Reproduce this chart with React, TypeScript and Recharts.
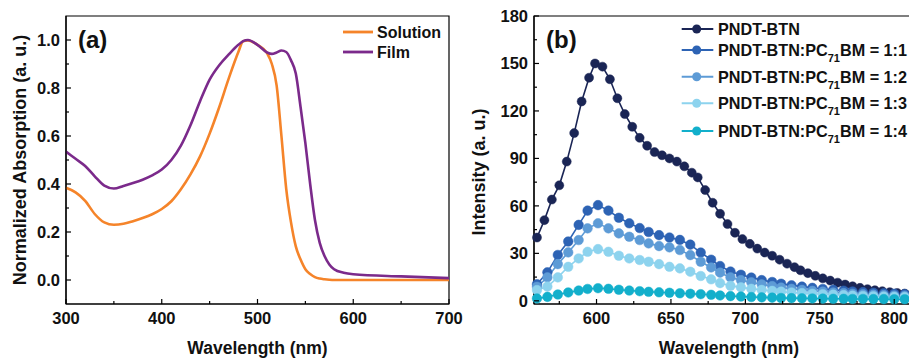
import { LineChart, Line, XAxis, YAxis, ReferenceArea, Legend, Label } from 'recharts'

// (a) normalized UV-vis absorption
const absWavelength = [300, 310, 320, 330, 340, 350, 360, 370, 380, 390, 400, 410, 420, 430, 440, 450, 460, 470, 480, 485, 490, 500, 510, 515, 520, 525, 530, 535, 540, 545, 550, 555, 560, 565, 570, 575, 580, 590, 600, 650, 700]
const absSolution = [0.384, 0.365, 0.33, 0.275, 0.24, 0.23, 0.234, 0.245, 0.258, 0.274, 0.296, 0.328, 0.378, 0.44, 0.515, 0.61, 0.72, 0.84, 0.95, 0.995, 0.998, 0.98, 0.945, 0.9, 0.81, 0.6, 0.38, 0.24, 0.14, 0.085, 0.045, 0.025, 0.012, 0.006, 0.003, 0.001, 0, 0, 0, 0, 0]
const absFilm = [0.535, 0.505, 0.475, 0.432, 0.393, 0.381, 0.392, 0.404, 0.418, 0.436, 0.46, 0.5, 0.56, 0.645, 0.745, 0.835, 0.895, 0.94, 0.98, 0.995, 1.0, 0.98, 0.948, 0.942, 0.948, 0.956, 0.95, 0.915, 0.86, 0.72, 0.57, 0.4, 0.25, 0.155, 0.1, 0.065, 0.045, 0.03, 0.024, 0.015, 0.008]

// (b) photoluminescence
const plWavelengthNeat = [560, 565, 570, 575, 580, 585, 590, 595, 599, 604, 609, 614, 619, 624, 629, 634, 639, 644, 649, 654, 659, 664, 668, 673, 678, 683, 688, 693, 698, 703, 708, 713, 718, 723, 728, 733, 737, 742, 747, 752, 757, 762, 767, 772, 777, 782, 787, 792, 797, 802, 807]
const plNeat = [40, 51, 64, 73, 88, 106, 126, 141, 150, 148, 140, 128, 118, 110, 103, 98, 94, 92, 90, 88, 85, 81, 78, 70, 62, 55, 48.5, 43, 39, 36, 33, 30.5, 28.5, 26, 23.5, 21.3, 19.3, 17.5, 15.8, 14.2, 12.8, 11.5, 10.3, 9.2, 8.2, 7.4, 6.7, 6.1, 5.5, 5, 4.6]
const plWavelengthBlend = [560, 567, 574, 581, 588, 594, 601, 608, 615, 622, 629, 635, 642, 649, 656, 663, 670, 677, 683, 690, 697, 704, 711, 718, 724, 731, 738, 745, 752, 759, 766, 772, 779, 786, 793, 800, 807]
const plBlend11 = [10.5, 18, 29, 37.5, 48, 57, 60.5, 57, 52.5, 49, 46, 43.5, 41.5, 40, 38.5, 35.5, 30.5, 26, 22, 18.5, 16.5, 14.7, 13.1, 11.9, 10.8, 9.8, 9, 8.2, 7.5, 6.9, 6.4, 5.9, 5.5, 5.1, 4.8, 4.5, 4.2]
const plBlend12 = [8.9, 14.8, 23.2, 30.6, 38.4, 45.8, 49, 45.8, 42.6, 40.5, 38.4, 36.3, 34.6, 33.8, 32.1, 28.9, 24.7, 21.1, 17.8, 14.8, 13.1, 11.7, 10.4, 9.3, 8.4, 7.6, 6.9, 6.3, 5.8, 5.3, 4.9, 4.5, 4.2, 3.9, 3.6, 3.4, 3.2]
const plBlend13 = [6.8, 9, 14.8, 21.5, 26.8, 31, 32.7, 31, 28.5, 26.8, 25.8, 24.7, 23.2, 21.5, 20.5, 18.4, 15.7, 13.6, 11.2, 9.5, 8.5, 7.6, 6.9, 6.3, 5.8, 5.3, 4.9, 4.5, 4.2, 3.9, 3.6, 3.3, 3.1, 2.9, 2.7, 2.5, 2.4]
const plBlend14 = [1.5, 2.5, 4, 5.3, 6.5, 7.5, 8, 7.6, 7, 6.5, 6.1, 5.7, 5.4, 5.1, 4.8, 4.5, 4.2, 3.8, 3.4, 3.0, 2.7, 2.4, 2.2, 2.0, 1.8, 1.7, 1.6, 1.5, 1.4, 1.3, 1.3, 1.2, 1.2, 1.1, 1.1, 1.0, 1.0]

// ticks (minor ticks included, labels only on majors)
const absTicksX = [300, 350, 400, 450, 500, 550, 600, 650, 700]
const absTicksY = [0, 0.1, 0.2, 0.3, 0.4, 0.5, 0.6, 0.7, 0.8, 0.9, 1.0]
const plTicksX = [575, 600, 625, 650, 675, 700, 725, 750, 775, 800]
const plTicksY = [0, 15, 30, 45, 60, 75, 90, 105, 120, 135, 150, 165, 180]

const FONT = '"Liberation Sans", Arial, Helvetica, sans-serif'
const X_GAP = 8
const Y_GAP = 6
const txt = { fontFamily: FONT, fontWeight: 700, fill: '#111' }

const absRows = absWavelength.map((w, i) => ({ w, solution: absSolution[i], film: absFilm[i] }))
const toPts = (xs: number[], ys: number[]) => xs.map((x, i) => ({ w: x, v: ys[i] }))

const absSeries = [
  { key: 'solution', name: 'Solution', color: '#F5842A' },
  { key: 'film', name: 'Film', color: '#7B2A8B' },
]

const plSeries = [
  { name: 'PNDT-BTN', color: '#1A2555', r: 4.5, data: toPts(plWavelengthNeat, plNeat) },
  { name: 'PNDT-BTN:PC71BM = 1:1', color: '#2D63B4', r: 4.8, data: toPts(plWavelengthBlend, plBlend11) },
  { name: 'PNDT-BTN:PC71BM = 1:2', color: '#5D9BD6', r: 4.8, data: toPts(plWavelengthBlend, plBlend12) },
  { name: 'PNDT-BTN:PC71BM = 1:3', color: '#8DD3EE', r: 4.8, data: toPts(plWavelengthBlend, plBlend13) },
  { name: 'PNDT-BTN:PC71BM = 1:4', color: '#12AFCB', r: 4.8, data: toPts(plWavelengthBlend, plBlend14) },
]

function xTick(isMajor: (v: number) => boolean, fmt: (v: number) => string) {
  return (p: any) => {
    const v = p.payload.value
    const major = isMajor(v)
    const axisY = p.y - X_GAP
    return (
      <g>
        <line x1={p.x} x2={p.x} y1={axisY} y2={axisY - (major ? 5 : 3)} stroke="#000" strokeWidth={1.2} />
        {major && (
          <text x={p.x} y={p.y} dy="0.71em" textAnchor="middle" fontSize={16.5} {...txt}>
            {fmt(v)}
          </text>
        )}
      </g>
    )
  }
}

function yTick(isMajor: (v: number) => boolean, fmt: (v: number) => string) {
  return (p: any) => {
    const v = p.payload.value
    const major = isMajor(v)
    const axisX = p.x + Y_GAP
    return (
      <g>
        <line x1={axisX} x2={axisX + (major ? 5 : 3)} y1={p.y} y2={p.y} stroke="#000" strokeWidth={1.2} />
        {major && (
          <text x={p.x} y={p.y} dy="0.36em" textAnchor="end" fontSize={16.5} {...txt}>
            {fmt(v)}
          </text>
        )}
      </g>
    )
  }
}

const xTitle = (dy: number) => (p: any) => {
  const vb = p.viewBox
  return (
    <text x={vb.x + vb.width / 2} y={vb.y + dy} textAnchor="middle" fontSize={17.5} {...txt}>
      Wavelength (nm)
    </text>
  )
}

const yTitle = (value: string, cx: number, cyShift: number) => (p: any) => {
  const vb = p.viewBox
  const cy = vb.y + vb.height / 2 + cyShift
  return (
    <text x={cx} y={cy} transform={`rotate(-90, ${cx}, ${cy})`} textAnchor="middle" dy="0.36em" fontSize={18} {...txt}>
      {value}
    </text>
  )
}

const panelTag = (tag: string) => (p: any) => {
  const vb = p.viewBox
  return (
    <text x={vb.x + 12} y={vb.y + 32} fontSize={24} {...txt}>
      {tag}
    </text>
  )
}

function AbsLegend() {
  const rows = [14, 34]
  return (
    <svg width={120} height={46} style={{ overflow: 'visible' }}>
      {absSeries.map((s, i) => (
        <g key={s.key}>
          <line x1={5} x2={35} y1={rows[i]} y2={rows[i]} stroke={s.color} strokeWidth={2.8} />
          <text x={39} y={rows[i]} dy="0.36em" fontSize={16} {...txt}>
            {s.name}
          </text>
        </g>
      ))}
    </svg>
  )
}

function seriesLabel(name: string) {
  const i = name.indexOf('PC71BM')
  if (i < 0) return name
  return (
    <>
      {name.slice(0, i)}PC
      <tspan fontSize={11} dy={6}>71</tspan>
      <tspan dy={-6}>BM{name.slice(i + 6)}</tspan>
    </>
  )
}

function PlLegend() {
  const rows = [15, 36, 62.7, 89.3, 117]
  return (
    <svg width={260} height={130} style={{ overflow: 'visible' }}>
      {plSeries.map((s, i) => (
        <g key={s.name}>
          <line x1={1.7} x2={33.3} y1={rows[i]} y2={rows[i]} stroke={s.color} strokeWidth={2} />
          <circle cx={16.7} cy={rows[i]} r={4.5} fill={s.color} />
          <text x={38} y={rows[i]} dy="0.36em" fontSize={16.2} {...txt}>
            {seriesLabel(s.name)}
          </text>
        </g>
      ))}
    </svg>
  )
}

export default function App() {
  return (
    <div style={{ position: 'absolute', left: 0, top: 0, width: 909, height: 358, overflow: 'hidden', background: '#fff' }}>
      <div style={{ position: 'absolute', left: 0, top: 0 }}>
        <LineChart width={470} height={358} data={absRows} margin={{ top: 16, right: 21, bottom: 0, left: 0 }}>
          <ReferenceArea x1={300} x2={700} y1={-0.1} y2={1.1} fill="none" stroke="#000" strokeWidth={1.2}>
            <Label content={panelTag('(a)')} />
          </ReferenceArea>
          <XAxis
            type="number"
            dataKey="w"
            domain={[300, 700]}
            ticks={absTicksX}
            interval={0}
            height={54}
            tickSize={0}
            tickMargin={X_GAP}
            tickLine={false}
            axisLine={{ stroke: '#000', strokeWidth: 1.2 }}
            tick={xTick((v) => v % 100 === 0, (v) => String(v))}
            label={{ content: xTitle(50) }}
          />
          <YAxis
            type="number"
            domain={[-0.1, 1.1]}
            ticks={absTicksY}
            interval={0}
            width={66}
            tickSize={0}
            tickMargin={Y_GAP}
            tickLine={false}
            axisLine={{ stroke: '#000', strokeWidth: 1.2 }}
            tick={yTick((v) => Math.round(v * 10) % 2 === 0, (v) => v.toFixed(1))}
            label={{ content: yTitle('Normalized Absorption (a. u.)', 19.5, 0) }}
          />
          {absSeries.map((s) => (
            <Line
              key={s.key}
              type="monotone"
              dataKey={s.key}
              name={s.name}
              stroke={s.color}
              strokeWidth={2.6}
              dot={false}
              isAnimationActive={false}
            />
          ))}
          <Legend
            layout="vertical"
            align="center"
            verticalAlign="middle"
            wrapperStyle={{ left: 338, top: 18, width: 120, height: 46 }}
            content={() => <AbsLegend />}
          />
        </LineChart>
      </div>
      <div style={{ position: 'absolute', left: 460, top: 0 }}>
        <LineChart width={464} height={358} margin={{ top: 16, right: 0, bottom: 0, left: 0 }}>
          <ReferenceArea x1={558} x2={820} y1={-2} y2={180} fill="none" stroke="#000" strokeWidth={1.2}>
            <Label content={panelTag('(b)')} />
          </ReferenceArea>
          <XAxis
            type="number"
            dataKey="w"
            domain={[558, 820]}
            ticks={plTicksX}
            interval={0}
            height={54}
            tickSize={0}
            tickMargin={X_GAP}
            tickLine={false}
            axisLine={{ stroke: '#000', strokeWidth: 1.2 }}
            tick={xTick((v) => v % 50 === 0, (v) => String(v))}
            label={{ content: xTitle(50) }}
            allowDuplicatedCategory={false}
          />
          <YAxis
            type="number"
            domain={[-2, 180]}
            ticks={plTicksY}
            interval={0}
            width={74}
            tickSize={0}
            tickMargin={Y_GAP}
            tickLine={false}
            axisLine={{ stroke: '#000', strokeWidth: 1.2 }}
            tick={yTick((v) => v % 30 === 0, (v) => String(v))}
            label={{ content: yTitle('Intensity (a. u.)', 19, 12) }}
          />
          {plSeries.map((s) => (
            <Line
              key={s.name}
              data={s.data}
              type="linear"
              dataKey="v"
              name={s.name}
              stroke={s.color}
              strokeWidth={1.6}
              dot={{ r: s.r, fill: s.color, stroke: s.color, strokeWidth: 0.5 }}
              isAnimationActive={false}
            />
          ))}
          <Legend
            layout="vertical"
            align="center"
            verticalAlign="middle"
            wrapperStyle={{ left: 220, top: 14, width: 260, height: 130 }}
            content={() => <PlLegend />}
          />
        </LineChart>
      </div>
    </div>
  )
}
